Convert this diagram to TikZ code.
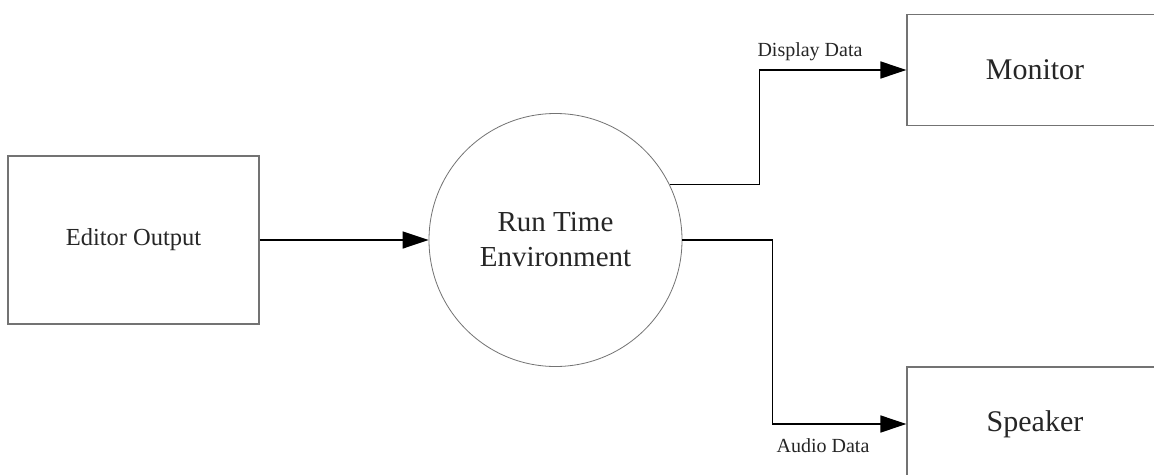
\documentclass[tikz,border=0pt]{standalone}
\usepackage{fontspec}
\setmainfont{Liberation Serif}
\usetikzlibrary{arrows.meta}
\tikzset{
  boxnode/.style={draw=black!55, line width=1.2pt, rectangle, inner sep=0pt, text=black!85},
  procnode/.style={draw=black!55, line width=0.8pt, circle, minimum size=253pt, inner sep=0pt, align=center, text=black!85, font=\fontsize{29}{35}\selectfont},
  flow/.style={draw=black, line width=1.6pt, -{Triangle[length=26pt,width=17pt]}},
  flowlabel/.style={text=black!85, font=\fontsize{20}{24}\selectfont, inner sep=0pt}
}
\begin{document}
\begin{tikzpicture}[x=1pt,y=-1pt]
\useasboundingbox (0,0) rectangle (1154,474);
\clip (0,0) rectangle (1154,474);
\fill[white] (0,0) rectangle (1154,474);
\node[boxnode, minimum width=251pt, minimum height=168pt, font=\fontsize{24.5}{29}\selectfont] (ed) at (133.5,240) {Editor Output};
\node[procnode] (rte) at (555.5,240) {Run Time\\Environment};
\node[boxnode, minimum width=256pt, minimum height=111pt, font=\fontsize{30}{36}\selectfont] (mon) at (1035,70) {Monitor};
\node[boxnode, minimum width=256pt, minimum height=114pt, font=\fontsize{30}{36}\selectfont] (spk) at (1035,424) {Speaker};
\draw[flow] (ed.east) -- (rte.west);
\draw[flow] (rte.26.8) -- ++(90,0) |- (mon.west);
\draw[flow] (rte.east) -- ++(90,0) |- (spk.west);
\node[flowlabel] (dlab) at (810,52) {Display Data};
\node[flowlabel] (alab) at (823,446) {Audio Data};
\end{tikzpicture}
\end{document}
